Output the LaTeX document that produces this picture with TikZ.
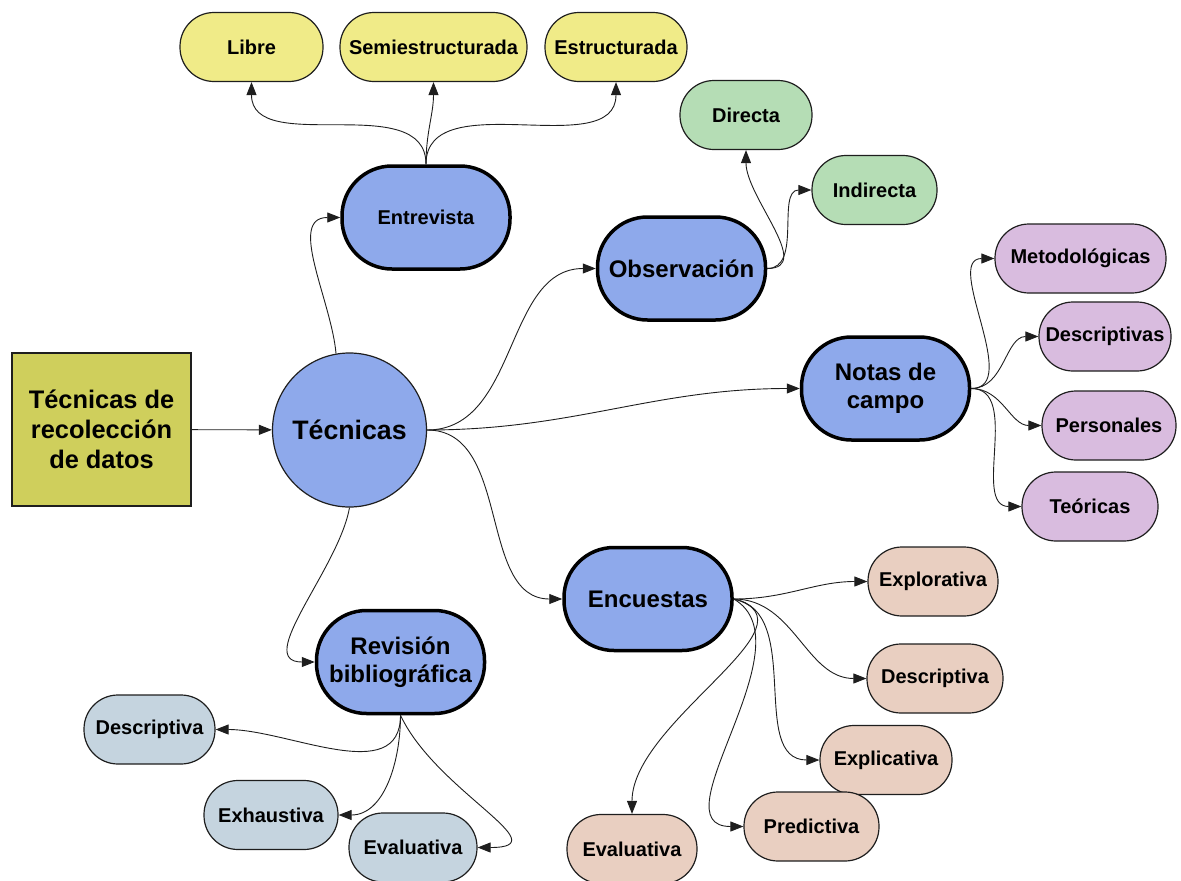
\documentclass[tikz,border=0pt]{standalone}
\usepackage{fontspec}
\setmainfont{Liberation Sans}
\usetikzlibrary{arrows.meta}
\definecolor{olive}{RGB}{207,207,92}
\definecolor{mainblue}{RGB}{142,169,235}
\definecolor{yel}{RGB}{240,235,136}
\definecolor{grn}{RGB}{181,221,181}
\definecolor{pur}{RGB}{217,188,223}
\definecolor{pch}{RGB}{233,207,193}
\definecolor{bgr}{RGB}{197,212,223}
\definecolor{edge}{RGB}{30,30,30}
\begin{document}
\begin{tikzpicture}[x=1pt,y=-1pt,
  leaf/.style={draw=edge, line width=1.2pt, rounded corners=34pt, minimum height=69pt, inner sep=0pt, align=center, font=\fontsize{20}{23}\selectfont\bfseries},
  major/.style={draw=black, line width=3.5pt, fill=mainblue, rounded corners=50pt, minimum height=103pt, minimum width=168pt, inner sep=0pt, align=center, font=\fontsize{24}{27.5}\selectfont\bfseries},
  conn/.style={draw=edge, line width=0.9pt, -{Triangle[length=13pt,width=10pt]}}
]
\useasboundingbox (0,0) rectangle (1181,881);

% root nodes
\node[draw=edge, line width=1.2pt, fill=olive, minimum width=179pt, minimum height=153pt, inner sep=0pt, align=center, font=\fontsize{25.4}{30}\selectfont\bfseries] (root) at (101.5,429.5) {Técnicas de\\recolección\\de datos};
\node[circle, draw=edge, line width=1.2pt, fill=mainblue, minimum size=154pt, inner sep=0pt, font=\fontsize{26.7}{30}\selectfont\bfseries] (tec) at (349.5,430) {Técnicas};

% major nodes
\node[major, font=\fontsize{20}{23}\selectfont\bfseries] (ent) at (426,217.5) {Entrevista};
\node[major] (obs) at (681.5,268.5) {Observación};
\node[major] (not) at (885.5,388.5) {Notas de\\campo};
\node[major] (enc) at (648,599) {Encuestas};
\node[major] (rev) at (400.5,662) {Revisión\\bibliográfica};

% entrevista
\node[leaf, fill=yel, minimum width=143pt] (lib) at (251.5,47) {Libre};
\node[leaf, fill=yel, minimum width=187pt] (sem) at (433.5,47) {Semiestructurada};
\node[leaf, fill=yel, minimum width=142pt] (est) at (616,47) {Estructurada};

% observacion
\node[leaf, fill=grn, minimum width=132pt] (dir) at (746,115) {Directa};
\node[leaf, fill=grn, minimum width=125pt] (ind) at (874.5,190) {Indirecta};

% notas
\node[leaf, fill=pur, minimum width=171pt] (met) at (1080.5,258.5) {Metodológicas};
\node[leaf, fill=pur, minimum width=132pt] (des) at (1105,336.5) {Descriptivas};
\node[leaf, fill=pur, minimum width=134pt] (per) at (1109,425.5) {Personales};
\node[leaf, fill=pur, minimum width=136pt] (teo) at (1090,506.5) {Teóricas};

% encuestas
\node[leaf, fill=pch, minimum width=130pt] (expl) at (933,581.5) {Explorativa};
\node[leaf, fill=pch, minimum width=136pt] (edes) at (935,678.5) {Descriptiva};
\node[leaf, fill=pch, minimum width=132pt] (expc) at (886,760) {Explicativa};
\node[leaf, fill=pch, minimum width=135pt] (pred) at (811.5,826.5) {Predictiva};
\node[leaf, fill=pch, minimum width=130pt] (eeva) at (632,849) {Evaluativa};

% revision
\node[leaf, fill=bgr, minimum width=131pt] (rdes) at (149.5,729.5) {Descriptiva};
\node[leaf, fill=bgr, minimum width=134pt] (exh) at (271,815) {Exhaustiva};
\node[leaf, fill=bgr, minimum width=128pt] (reva) at (413,847.5) {Evaluativa};

% connectors
\draw[conn] (root) -- (tec);
\draw[conn] (tec.100) to[out=95,in=180] (ent.west);
\draw[conn] (tec.east) to[out=0,in=180] (obs.west);
\draw[conn] (tec.east) to[out=0,in=180] (not.west);
\draw[conn] (tec.east) to[out=0,in=180] (enc.west);
\draw[conn] (tec.south) to[out=-100,in=180] (rev.west);

\draw[conn] (ent.north) to[out=90,in=-90] (lib.south);
\draw[conn] (ent.north) to[out=90,in=-90] (sem.south);
\draw[conn] (ent.north) to[out=90,in=-90] (est.south);

\draw[conn] (obs.east) to[out=0,in=-90] (dir.south);
\draw[conn] (obs.east) to[out=0,in=180] (ind.west);

\draw[conn] (not.east) to[out=0,in=180] (met.west);
\draw[conn] (not.east) to[out=0,in=180] (des.west);
\draw[conn] (not.east) to[out=0,in=180] (per.west);
\draw[conn] (not.east) to[out=0,in=180] (teo.west);

\draw[conn] (enc.east) to[out=0,in=180] (expl.west);
\draw[conn] (enc.east) to[out=0,in=180] (edes.west);
\draw[conn] (enc.east) to[out=-10,in=180] (expc.west);
\draw[conn] (enc.east) to[out=-30,in=180] (pred.west);
\draw[conn] (enc.east) to[out=-15,in=90] (eeva.north);

\draw[conn] (rev.south) to[out=-90,in=0] (rdes.east);
\draw[conn] (rev.south) to[out=-90,in=0] (exh.east);
\draw[conn] (rev.south) to[out=-65,in=0,looseness=1.4] (reva.east);
\end{tikzpicture}
\end{document}
